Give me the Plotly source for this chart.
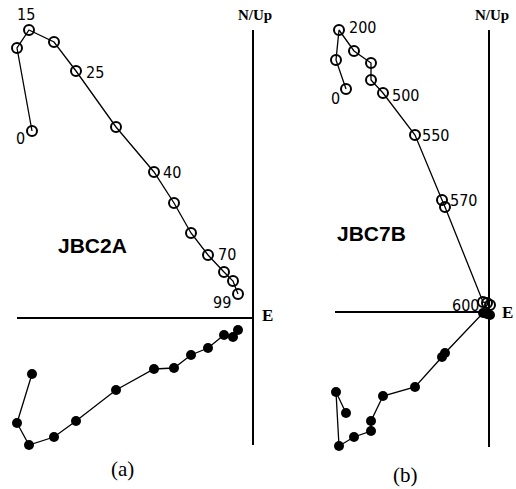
import plotly.graph_objects as go

# ---- Panel (a): JBC2A (arbitrary intensity units) ----
a_E  = [-221, -236, -224, -199, -177, -137, -99, -79, -62, -45, -29, -20, -15]
a_Up = [187, 270, 288, 276, 247, 191, 146, 115, 85, 63, 46, 37, 24]
a_N  = [-56, -105, -127, -119, -103, -72, -51, -50, -37, -30, -17, -19, -12]
a_step_idx = [0, 2, 4, 6, 9, 12]
a_step_txt = ["0", "15", "25", "40", "70", "99"]

# ---- Panel (b): JBC7B ----
b_E  = [-143, -153, -150, -135, -118, -118, -106, -74, -47, -44, -6, -2, 1]
b_Up = [223, 252, 282, 261, 249, 232, 219, 177, 112, 105, 10, 9, 7]
b_N  = [-101, -80, -134, -125, -119, -109, -84, -75, -45, -41, -1, -2, -3]
b_step_idx = [0, 2, 6, 7, 8, 10]
b_step_txt = ["0", "200", "500", "550", "570", "600"]

W, H = 516, 489
fig = go.Figure()

def add_panel(E, Up, N, xa, ya):
    fig.add_trace(go.Scatter(
        x=E, y=Up, mode="lines+markers", xaxis=xa, yaxis=ya,
        line=dict(color="black", width=1.3),
        marker=dict(symbol="circle-open", size=10, color="black", line=dict(width=2)),
        showlegend=False, hoverinfo="skip"))
    fig.add_trace(go.Scatter(
        x=E, y=N, mode="lines+markers", xaxis=xa, yaxis=ya,
        line=dict(color="black", width=1.3),
        marker=dict(symbol="circle", size=10, color="black"),
        showlegend=False, hoverinfo="skip"))

add_panel(a_E, a_Up, a_N, "x", "y")
add_panel(b_E, b_Up, b_N, "x2", "y2")

ax_style = dict(visible=False, fixedrange=True)
fig.update_layout(
    width=W, height=H, autosize=False,
    margin=dict(l=0, r=0, t=0, b=0),
    paper_bgcolor="white", plot_bgcolor="white",
    xaxis=dict(domain=[0, 270 / W], range=[-253, 17], **ax_style),
    yaxis=dict(domain=[0, 1], range=[-171, 318], **ax_style),
    xaxis2=dict(domain=[270 / W, 1], range=[-219, 27], **ax_style),
    yaxis2=dict(domain=[0, 1], range=[-177, 312], anchor="x2", **ax_style),
)

# axes lines
for xr, yr, top, bot, left in [("x", "y", 288, -127, -236), ("x2", "y2", 282, -135, -154)]:
    fig.add_shape(type="line", xref=xr, yref=yr, x0=0, x1=0, y0=bot, y1=top,
                  line=dict(color="black", width=2))
    fig.add_shape(type="line", xref=xr, yref=yr, x0=left, x1=0, y0=0, y1=0,
                  line=dict(color="black", width=1.8))

lab_font = dict(family="Liberation Sans Narrow, DejaVu Sans Condensed, sans-serif", size=16, color="black")
a_off = [(-12, -7), (-3, 16), (19, -1), (18, 0), (19, 1), (-16, -8)]
b_off = [(-11, -9), (23, 3), (22, -2), (20, 0), (21, 0), (-18, -3)]
for idxs, txts, offs, E, Up, xr, yr in [
        (a_step_idx, a_step_txt, a_off, a_E, a_Up, "x", "y"),
        (b_step_idx, b_step_txt, b_off, b_E, b_Up, "x2", "y2")]:
    for i, t, (dx, dy) in zip(idxs, txts, offs):
        fig.add_annotation(x=E[i], y=Up[i], xref=xr, yref=yr, text=t, showarrow=False,
                           xshift=dx, yshift=dy, font=lab_font)

serif_b = dict(family="Liberation Serif, serif", size=15, color="black")
fig.add_annotation(x=2, y=303, xref="x", yref="y", text="<b>N/Up</b>", showarrow=False, font=serif_b)
fig.add_annotation(x=3, y=297, xref="x2", yref="y2", text="<b>N/Up</b>", showarrow=False, font=serif_b)
fig.add_annotation(x=14, y=3, xref="x", yref="y", text="<b>E</b>", showarrow=False,
                   font=dict(family="Liberation Serif, serif", size=17, color="black"))
fig.add_annotation(x=18, y=0, xref="x2", yref="y2", text="<b>E</b>", showarrow=False,
                   font=dict(family="Liberation Serif, serif", size=17, color="black"))

name_font = dict(family="Liberation Sans, Arial, sans-serif", size=21, color="black")
fig.add_annotation(x=-161, y=73, xref="x", yref="y", text="<b>JBC2A</b>", showarrow=False, font=name_font)
fig.add_annotation(x=-118, y=79, xref="x2", yref="y2", text="<b>JBC7B</b>", showarrow=False, font=name_font)

cap_font = dict(family="Liberation Serif, serif", size=21, color="black")
fig.add_annotation(x=-131, y=-151, xref="x", yref="y", text="(a)", showarrow=False, font=cap_font)
fig.add_annotation(x=-84, y=-163, xref="x2", yref="y2", text="(b)", showarrow=False, font=cap_font)

fig.write_html("out.html", config={"displayModeBar": False},
               post_script="document.body.style.margin='0';")
